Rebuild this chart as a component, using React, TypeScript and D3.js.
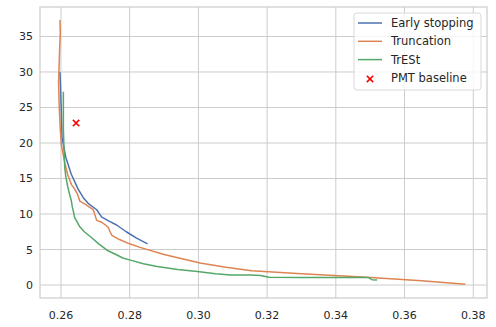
import React, { useEffect, useRef } from 'react';
import * as d3 from 'd3';

// Early stopping
const earlyX = [0.2597, 0.2598, 0.2601, 0.2603, 0.2614, 0.2630, 0.2650, 0.2665, 0.2679, 0.2704, 0.2718, 0.2740, 0.2762, 0.2790, 0.2820, 0.2852];
const earlyY = [30, 28.9, 24.6, 20.8, 18.0, 15.6, 13.5, 12.3, 11.5, 10.6, 9.6, 9.0, 8.45, 7.5, 6.6, 5.8];

// Truncation
const truncX = [0.2597, 0.2598, 0.2596, 0.2593, 0.2595, 0.2598, 0.2601, 0.2606, 0.2612, 0.2620, 0.2631, 0.2640, 0.2648, 0.2655, 0.2670, 0.2685, 0.2694, 0.2700, 0.2704, 0.2720, 0.2738, 0.2742, 0.2748, 0.2770, 0.2800, 0.2830, 0.2900, 0.3005, 0.3080, 0.3155, 0.3300, 0.3490, 0.3650, 0.3777];
const truncY = [37.3, 35.5, 33, 28.4, 25, 22, 19.8, 18.5, 17.0, 15.5, 14.1, 13.5, 12.8, 11.8, 11.4, 10.9, 10.6, 9.7, 9.1, 8.8, 8.1, 7.6, 7.0, 6.4, 5.8, 5.3, 4.3, 3.1, 2.5, 2.0, 1.6, 1.08, 0.6, 0.1];

// TrESt
const trestX = [0.2607, 0.2607, 0.2609, 0.2611, 0.2614, 0.2620, 0.2626, 0.2630, 0.2633, 0.2636, 0.2640, 0.2655, 0.2668, 0.2686, 0.2710, 0.2734, 0.2760, 0.2780, 0.2802, 0.2840, 0.2880, 0.2940, 0.2997, 0.3050, 0.3094, 0.3150, 0.3181, 0.3205, 0.3300, 0.3420, 0.3495, 0.3505, 0.3520];
const trestY = [27.2, 22, 19.0, 16.5, 15.3, 13.8, 12.6, 11.9, 11.0, 10.4, 9.5, 8.2, 7.5, 6.8, 5.8, 4.9, 4.3, 3.8, 3.5, 3.0, 2.6, 2.2, 1.9, 1.6, 1.4, 1.4, 1.35, 1.08, 1.05, 1.05, 1.05, 0.75, 0.7];

// PMT baseline
const pmtX = [0.2644];
const pmtY = [22.8];

const xTicks = [0.26, 0.28, 0.30, 0.32, 0.34, 0.36, 0.38];
const yTicks = [0, 5, 10, 15, 20, 25, 30, 35];

const seriesNames = ['Early stopping', 'Truncation', 'TrESt'];
const seriesColors = ['#4c72b0', '#dd8452', '#55a868'];

export default function App() {
  const svgRef = useRef<SVGSVGElement>(null);

  useEffect(() => {
    const w = 496;
    const h = 327;
    const m = { left: 40, right: 9, top: 7, bottom: 29 };
    const svg = d3.select(svgRef.current).attr('width', w).attr('height', h);
    svg.selectAll('*').remove();

    const x = d3.scaleLinear().domain([0.2539, 0.384]).range([m.left, w - m.right]);
    const y = d3.scaleLinear().domain([-1.83, 39.15]).range([h - m.bottom, m.top]);
    const font = 'DejaVu Sans, sans-serif';

    // grid
    const grid = svg.append('g');
    grid.selectAll('.gx').data(xTicks).join('line')
      .attr('x1', (d) => x(d)).attr('x2', (d) => x(d))
      .attr('y1', m.top).attr('y2', h - m.bottom)
      .attr('stroke', '#cccccc').attr('stroke-width', 1);
    grid.selectAll('.gy').data(yTicks).join('line')
      .attr('y1', (d) => y(d)).attr('y2', (d) => y(d))
      .attr('x1', m.left).attr('x2', w - m.right)
      .attr('stroke', '#cccccc').attr('stroke-width', 1);

    // tick labels
    svg.append('g').selectAll('text').data(xTicks).join('text')
      .attr('x', (d) => x(d)).attr('y', h - m.bottom + 21)
      .attr('text-anchor', 'middle')
      .attr('font-family', font).attr('font-size', 11).attr('fill', '#262626')
      .text((d) => d3.format('.2f')(d));
    svg.append('g').selectAll('text').data(yTicks).join('text')
      .attr('x', m.left - 7).attr('y', (d) => y(d) + 4)
      .attr('text-anchor', 'end')
      .attr('font-family', font).attr('font-size', 11).attr('fill', '#262626')
      .text((d) => d);

    // lines
    const line = d3.line<[number, number]>().x((d) => x(d[0])).y((d) => y(d[1]));
    const series = [
      d3.zip(earlyX, earlyY),
      d3.zip(truncX, truncY),
      d3.zip(trestX, trestY),
    ] as [number, number][][];
    series.forEach((s, i) => {
      svg.append('path')
        .attr('d', line(s))
        .attr('fill', 'none')
        .attr('stroke', seriesColors[i])
        .attr('stroke-width', 1.5)
        .attr('stroke-linejoin', 'round');
    });

    // PMT marker
    const cross = (g: any, cx: number, cy: number, r: number) => {
      g.append('path')
        .attr('d', `M${cx - r},${cy - r}L${cx + r},${cy + r}M${cx - r},${cy + r}L${cx + r},${cy - r}`)
        .attr('stroke', 'red').attr('stroke-width', 1.6);
    };
    pmtX.forEach((px, i) => cross(svg, x(px), y(pmtY[i]), 3.2));

    // frame
    svg.append('rect')
      .attr('x', m.left).attr('y', m.top)
      .attr('width', w - m.left - m.right).attr('height', h - m.top - m.bottom)
      .attr('fill', 'none').attr('stroke', '#cccccc').attr('stroke-width', 1.2);

    // legend
    const lg = svg.append('g').attr('transform', 'translate(354,13)');
    lg.append('rect').attr('width', 127).attr('height', 77).attr('rx', 3)
      .attr('fill', 'white').attr('fill-opacity', 0.8)
      .attr('stroke', '#d9d9d9').attr('stroke-width', 1);
    const items = [...seriesNames, 'PMT baseline'];
    items.forEach((name, i) => {
      const cy = 10 + i * 18.3;
      if (i < 3) {
        lg.append('line').attr('x1', 4).attr('x2', 28).attr('y1', cy).attr('y2', cy)
          .attr('stroke', seriesColors[i]).attr('stroke-width', 1.5);
      } else {
        cross(lg, 16, cy + 1, 3.2);
      }
      lg.append('text').attr('x', 37).attr('y', cy + 4)
        .attr('font-family', font).attr('font-size', 11.5).attr('fill', '#262626')
        .text(name);
    });
  }, []);

  return <svg ref={svgRef} style={{ position: 'absolute', left: 0, top: 0 }}></svg>;
}
